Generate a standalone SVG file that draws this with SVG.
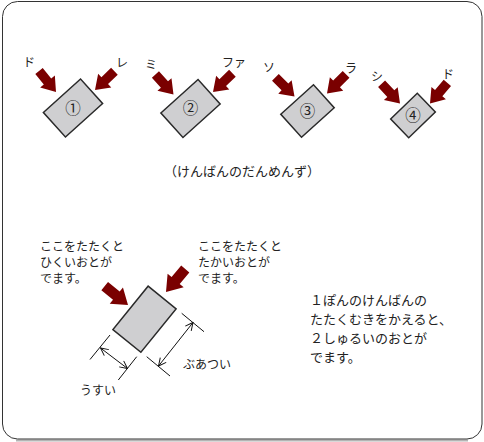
<svg xmlns="http://www.w3.org/2000/svg" xmlns:xlink="http://www.w3.org/1999/xlink" width="484" height="442" viewBox="0 0 484 442">
<style>
.frame{fill:#fff;stroke:#333;stroke-width:1}
.key{fill:#cfcfd1;stroke:#2a2a2a;stroke-width:1.5}
.fat{fill:#7a0000}
.t{font-family:"Noto Sans CJK JP","Noto Sans",sans-serif;fill:#222}
.lab{font-size:12px}
.num{font-size:15.5px;text-anchor:middle}
.body{font-size:12px}
.body2{font-size:13px}
.dim{stroke:#111;stroke-width:1;fill:none}
</style>
<defs>
<polygon id="fat" class="fat" points="-30,-5.3 -15,-5.3 -15,-10.5 0,0 -15,10.5 -15,5.3 -30,5.3"/>
<marker id="v" viewBox="0 0 10 10" refX="9.5" refY="5" markerWidth="9" markerHeight="9" markerUnits="userSpaceOnUse" orient="auto-start-reverse">
<path d="M1,0.8 L9.5,5 L1,9.2" fill="none" stroke="#111" stroke-width="1.1"/>
</marker>
</defs>
<rect width="484" height="442" fill="#fff"/>
<line x1="16" y1="440.5" x2="468" y2="440.5" stroke="#b4b4b4" stroke-width="2"/>
<rect class="frame" x="2.5" y="1.5" width="479.5" height="437.5" rx="15"/>

<g id="key1">
<rect class="key" x="-25" y="-16.5" width="50" height="33" transform="translate(73,108) rotate(-42)"/>
<text class="t num" x="73" y="113.5">①</text>
</g>
<g id="key2">
<rect class="key" x="-25" y="-16.5" width="50" height="33" transform="translate(190.5,108.5) rotate(-42)"/>
<text class="t num" x="190.5" y="114">②</text>
</g>
<g id="key3">
<rect class="key" x="-22" y="-15.5" width="44" height="31" transform="translate(307.5,111) rotate(-42)"/>
<text class="t num" x="307.5" y="116.5">③</text>
</g>
<g id="key4">
<rect class="key" x="-18.5" y="-13" width="37" height="26" transform="translate(413,115.5) rotate(-44)"/>
<text class="t num" x="413" y="121">④</text>
</g>
<g id="key5">
<rect class="key" x="-28" y="-18" width="56" height="36" transform="translate(144.5,319.2) rotate(-51)"/>
</g>

<g id="labels">
<text class="t lab" x="23" y="67">ド</text>
<text class="t lab" x="116" y="67">レ</text>
<text class="t lab" x="145" y="69">ミ</text>
<text class="t lab" x="222" y="67">ファ</text>
<text class="t lab" x="263" y="72">ソ</text>
<text class="t lab" x="345" y="73">ラ</text>
<text class="t lab" x="371" y="81">シ</text>
<text class="t lab" x="442" y="79">ド</text>
<text class="t body2" x="242" y="176" text-anchor="middle">（けんばんのだんめんず）</text>
</g>

<g id="note-low">
<text class="t body" x="40" y="251">ここをたたくと</text>
<text class="t body" x="40" y="267">ひくいおとが</text>
<text class="t body" x="40" y="283">でます。</text>
</g>
<g id="note-high">
<text class="t body" x="198" y="251">ここをたたくと</text>
<text class="t body" x="198" y="267">たかいおとが</text>
<text class="t body" x="198" y="283">でます。</text>
</g>
<g id="note-main">
<text class="t body2" x="310" y="305">１ぽんのけんばんの</text>
<text class="t body2" x="310" y="324">たたくむきをかえると、</text>
<text class="t body2" x="310" y="343">２しゅるいのおとが</text>
<text class="t body2" x="310" y="362">でます。</text>
</g>
<g id="dim-labels">
<text class="t body" x="183" y="369">ぶあつい</text>
<text class="t body" x="80" y="395">うすい</text>
</g>

<g id="connectors">
<use xlink:href="#fat" href="#fat" transform="translate(56,92) rotate(51) scale(0.9)"/>
<use xlink:href="#fat" href="#fat" transform="translate(95,90) rotate(136) scale(0.9)"/>
<use xlink:href="#fat" href="#fat" transform="translate(173.5,94.5) rotate(48) scale(0.9)"/>
<use xlink:href="#fat" href="#fat" transform="translate(213,92) rotate(136) scale(0.9)"/>
<use xlink:href="#fat" href="#fat" transform="translate(294.5,96.5) rotate(45) scale(0.9)"/>
<use xlink:href="#fat" href="#fat" transform="translate(327,93.5) rotate(135) scale(0.9)"/>
<use xlink:href="#fat" href="#fat" transform="translate(400,103.5) rotate(47) scale(0.9)"/>
<use xlink:href="#fat" href="#fat" transform="translate(430,103.5) rotate(130) scale(0.9)"/>
<use xlink:href="#fat" href="#fat" transform="translate(128,305) rotate(39)"/>
<use xlink:href="#fat" href="#fat" transform="translate(166,292) rotate(130)"/>
<line class="dim" x1="110" y1="335" x2="90" y2="359.5"/>
<line class="dim" x1="136.7" y1="356.7" x2="118.3" y2="380"/>
<line class="dim" x1="181.7" y1="313.3" x2="204" y2="331.7"/>
<line class="dim" x1="146.7" y1="356.7" x2="170" y2="376"/>
<line class="dim" x1="100.5" y1="348" x2="127.5" y2="368.5" marker-start="url(#v)" marker-end="url(#v)"/>
<line class="dim" x1="193" y1="322.5" x2="158.5" y2="366" marker-start="url(#v)" marker-end="url(#v)"/>
</g>
</svg>
